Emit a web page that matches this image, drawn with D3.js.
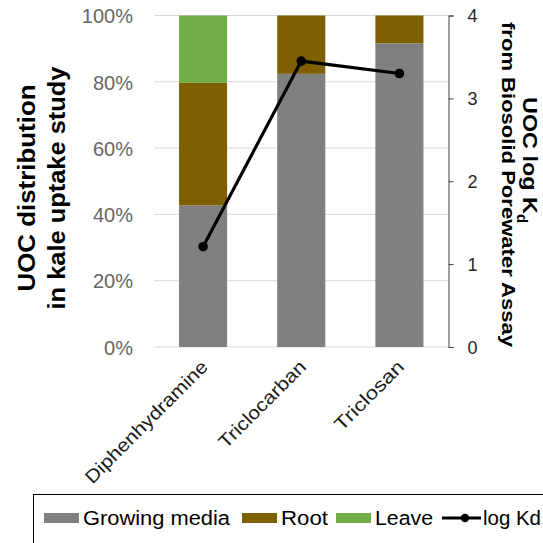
<!DOCTYPE html>
<html><head><meta charset="utf-8">
<script src="https://cdn.jsdelivr.net/npm/d3@7"></script>
<style>body{margin:0;background:#fff;}svg{display:block;font-family:Arial,"Liberation Sans",sans-serif;}</style>
</head><body>
<script>
const categories = ["Diphenhydramine", "Triclocarban", "Triclosan"];
const seriesNames = ["Growing media", "Root", "Leave"];
const growingMedia = [0.427, 0.824, 0.916];
const root = [0.370, 0.176, 0.084];
const leave = [0.203, 0.0, 0.0];
const logKd = [1.21, 3.45, 3.30];
const leftTicks = [0, 0.2, 0.4, 0.6, 0.8, 1.0];
const rightTicks = [0, 1, 2, 3, 4];
const colors = ["#808080", "#7f6000", "#70ad47"];

const W = 543, H = 543;
const svg = d3.select("body").append("svg").attr("width", W).attr("height", H);
const x0 = 154, x1 = 448.5, yTop = 15.5, yBot = 347;
const x = d3.scaleBand().domain(categories).range([x0, x1]).paddingInner(0.51).paddingOuter(0.255);
const yL = d3.scaleLinear().domain([0, 1]).range([yBot, yTop]);
const yR = d3.scaleLinear().domain([0, 4]).range([yBot, yTop]);

// gridlines
svg.append("g").selectAll("line").data(leftTicks).join("line")
  .attr("x1", x0).attr("x2", x1).attr("y1", d => yL(d)).attr("y2", d => yL(d))
  .attr("stroke", "#d9d9d9").attr("stroke-width", 1);

// stacked bars
const rows = categories.map((c, i) => ({cat: c, "Growing media": growingMedia[i], "Root": root[i], "Leave": leave[i]}));
const stack = d3.stack().keys(seriesNames)(rows);
svg.append("g").selectAll("g").data(stack).join("g").attr("fill", (d, i) => colors[i])
  .selectAll("rect").data(d => d).join("rect")
  .attr("x", d => x(d.data.cat)).attr("width", x.bandwidth())
  .attr("y", d => yL(d[1])).attr("height", d => yL(d[0]) - yL(d[1]));

const FF = "Arial, 'Liberation Sans', sans-serif";
// left axis labels
const gL = svg.append("g").attr("transform", `translate(${x0},0)`)
  .call(d3.axisLeft(yL).tickValues(leftTicks).tickFormat(d3.format(".0%")).tickSize(0).tickPadding(21));
gL.select(".domain").remove();
gL.selectAll("text").attr("font-size", 20).attr("fill", "#666666").attr("font-family", FF).attr("dy", "0.36em");

// right axis
const gR = svg.append("g").attr("transform", `translate(${x1},0)`)
  .call(d3.axisRight(yR).tickValues(rightTicks).tickFormat(d3.format("d")).tickSize(5).tickSizeOuter(5).tickPadding(14));
gR.select(".domain").attr("stroke", "#404040");
gR.selectAll(".tick line").attr("stroke", "#404040");
gR.selectAll("text").attr("font-size", 18).attr("fill", "#262626").attr("font-family", FF).attr("dy", "0.36em");

// x labels
const xLabelLen = {"Diphenhydramine": 165, "Triclocarban": 115, "Triclosan": 90};
svg.append("g").selectAll("text").data(categories).join("text")
  .attr("transform", d => `translate(${x(d) + x.bandwidth() / 2 + 6},${yBot + 21}) rotate(-45)`)
  .attr("text-anchor", "end").attr("font-size", 18.5).attr("fill", "#1a1a1a")
  .attr("textLength", d => xLabelLen[d]).attr("lengthAdjust", "spacingAndGlyphs").text(d => d);

// line
const cx = d => x(d) + x.bandwidth() / 2;
svg.append("path").datum(categories.map((c, i) => [cx(c), yR(logKd[i])]))
  .attr("d", d3.line()).attr("fill", "none").attr("stroke", "#000").attr("stroke-width", 3.2);
svg.append("g").selectAll("circle").data(categories).join("circle")
  .attr("cx", d => cx(d)).attr("cy", (d, i) => yR(logKd[i])).attr("r", 4.8).attr("fill", "#000");

// left title
const lt = svg.append("g").attr("transform", `translate(0,188) rotate(-90)`)
  .attr("font-size", 23).attr("font-weight", "bold").attr("fill", "#000");
lt.append("text").attr("x", 0).attr("y", 34.5).attr("text-anchor", "middle")
  .attr("textLength", 207).attr("lengthAdjust", "spacingAndGlyphs").text("UOC distribution");
lt.append("text").attr("x", 0).attr("y", 64.5).attr("text-anchor", "middle")
  .attr("textLength", 243).attr("lengthAdjust", "spacingAndGlyphs").text("in kale uptake study");

// right title
const rt = svg.append("g").attr("transform", `rotate(90)`)
  .attr("font-weight", "bold").attr("fill", "#000");
const t1 = rt.append("text").attr("x", 97).attr("y", -523).attr("font-size", 21);
t1.append("tspan").attr("textLength", 117).attr("lengthAdjust", "spacingAndGlyphs").text("UOC log K");
t1.append("tspan").attr("font-size", 15).attr("dy", 6).text("d");
rt.append("text").attr("x", 184.5).attr("y", -502).attr("font-size", 19).attr("text-anchor", "middle")
  .attr("textLength", 325).attr("lengthAdjust", "spacingAndGlyphs").text("from Biosolid Porewater Assay");

// legend
svg.append("rect").attr("x", 33.5).attr("y", 494.5).attr("width", 540).attr("height", 80)
  .attr("fill", "none").attr("stroke", "#000").attr("stroke-width", 1);
const legY = 525;
const legItems = [
  {name: "Growing media", color: colors[0], sx: 44, len: 147},
  {name: "Root", color: colors[1], sx: 242, len: 47},
  {name: "Leave", color: colors[2], sx: 336, len: 58}
];
const lg = svg.append("g");
lg.selectAll("rect").data(legItems).join("rect")
  .attr("x", d => d.sx).attr("y", 513).attr("width", 35).attr("height", 10).attr("fill", d => d.color);
lg.selectAll("text.s").data(legItems).join("text").attr("class", "s")
  .attr("x", d => d.sx + 39).attr("y", legY).attr("font-size", 19.5).attr("fill", "#000")
  .attr("textLength", d => d.len).attr("lengthAdjust", "spacingAndGlyphs").text(d => d.name);
lg.append("line").attr("x1", 442).attr("x2", 481).attr("y1", 518).attr("y2", 518).attr("stroke", "#000").attr("stroke-width", 3);
lg.append("circle").attr("cx", 465).attr("cy", 518).attr("r", 4.2).attr("fill", "#000");
lg.append("text").attr("x", 483).attr("y", legY).attr("font-size", 19.5).attr("fill", "#000")
  .attr("textLength", 58).attr("lengthAdjust", "spacingAndGlyphs").text("log Kd");
</script>
</body></html>
